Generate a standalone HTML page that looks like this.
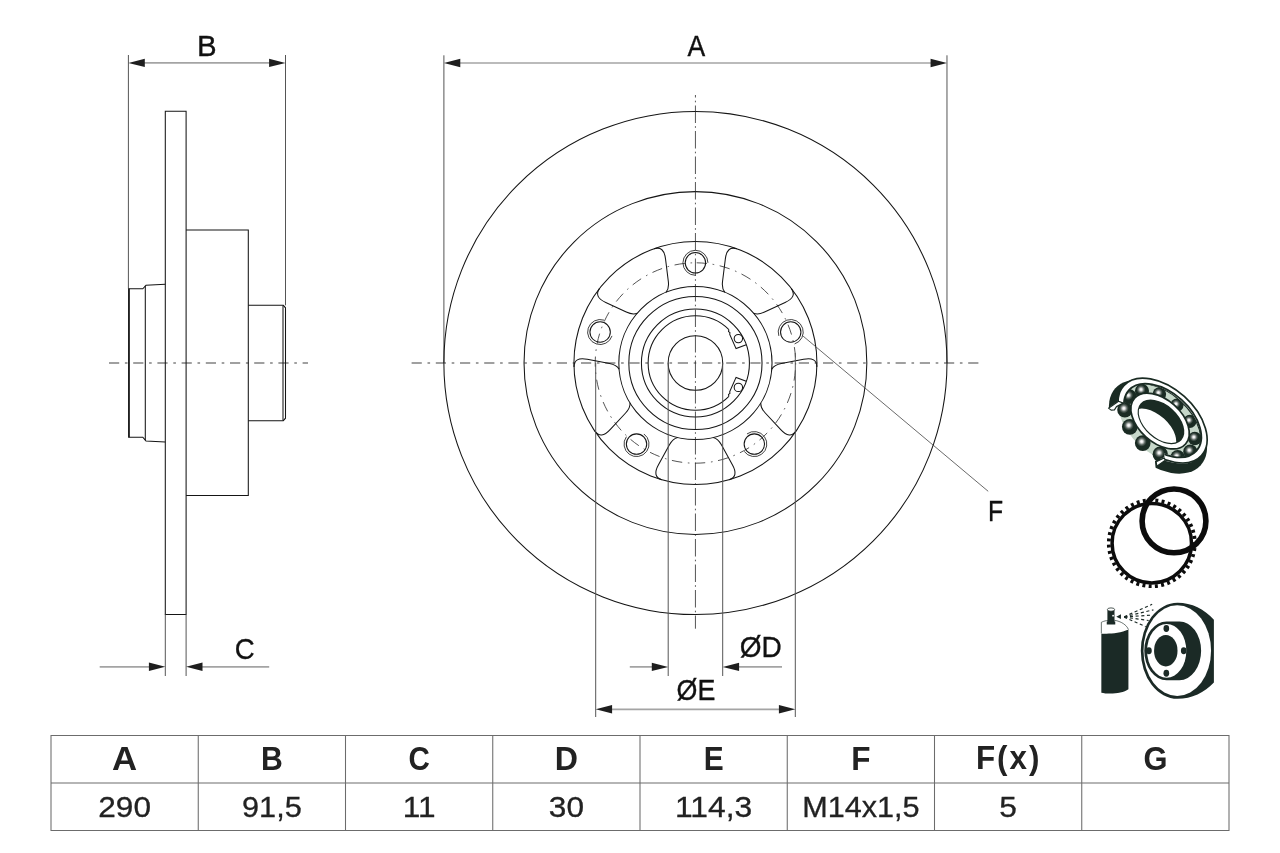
<!DOCTYPE html>
<html><head><meta charset="utf-8"><title>Brake disc drawing</title>
<style>
html,body{margin:0;padding:0;background:#fff;}
body{width:1280px;height:853px;overflow:hidden;position:relative;font-family:"Liberation Sans",sans-serif;}
svg{position:absolute;left:0;top:0;will-change:transform;}
text{font-family:"Liberation Sans",sans-serif;}
.o{fill:none;stroke:#151515;stroke-width:1.05;}
.t{fill:none;stroke:#2c2c2c;stroke-width:0.9;}
.d{fill:none;stroke:#555;stroke-width:1.0;}
.dh{fill:none;stroke:#a4a4a4;stroke-width:1.7;}
.ld{fill:none;stroke:#444;stroke-width:0.8;}
.cl{fill:none;stroke:#a0a0a0;stroke-width:1.9;stroke-dasharray:10.2 5.7 2.6 5.7;}
.cd{fill:none;stroke:#2a2a2a;stroke-width:0.8;stroke-dasharray:17.5 3.2 1.6 3.2;}
.ar{fill:#1e1e1e;stroke:none;}
.lb{font-size:30px;fill:#111;stroke:#111;stroke-width:0.35;}
.th{font-size:32.5px;font-weight:bold;fill:#222;text-anchor:middle;}
.tv{font-size:29.6px;fill:#222;stroke:#222;stroke-width:0.3;text-anchor:middle;}
.tb{fill:none;stroke:#6c6c6c;stroke-width:1.05;}
</style></head><body>
<svg width="1280" height="853" viewBox="0 0 1280 853">

<g id="side">
<path class="cl" d="M109 363H308"/>
<path class="d" d="M128.4 55V288.7M285.5 55V305.3"/>
<path class="dh" d="M144 62.9H270"/>
<path class="ar" d="M128.4 62.9l16.4 -4.2v8.4zM285.5 62.9l-16.4 -4.2v8.4z"/>
<path class="o" d="M165.3 111.2H186.1V614.5H165.3Z"/>
<path class="o" d="M186.1 230H248.3V495.5H186.1"/>
<path class="o" d="M248.3 305.3H283.3L285.5 307.8V418.2L283.3 420.7H248.3"/>
<path class="o" d="M283 305.6V420.4"/>
<path class="o" d="M165.3 284.3L146 285.3L145.3 286L142.8 288.8H128.6V437.2H142.8L145.3 440.2L146 441L165.3 442.1"/>
<path class="o" d="M129.3 288.7V437.3"/>
<path class="o" d="M145.3 285.8V440.2"/>
<path class="d" d="M165.3 614.5V676M186.1 614.5V676"/>
<path class="dh" d="M99.7 666.8H150M201 666.8H269.2"/>
<path class="ar" d="M165.3 666.8l-16.4 -4.2v8.4zM186.1 666.8l16.4 -4.2v8.4z"/>
</g>
<g id="front">
<path class="cl" d="M411.6 363H979"/>
<path class="d" d="M443.9 55.3V363M946.97 55.3V363"/>
<path class="dh" d="M459.5 63H931.5"/>
<path class="ar" d="M443.9 63l16.4 -4.2v8.4zM946.97 63l-16.4 -4.2v8.4z"/>
<circle class="o" cx="695.43" cy="363.00" r="251.55"/>
<circle class="o" cx="695.43" cy="363.00" r="171.40"/>
<circle class="o" cx="695.43" cy="363.00" r="121.50"/>
<circle class="o" cx="695.43" cy="363.00" r="76.60"/>
<circle class="o" cx="695.43" cy="363.00" r="66.60"/>
<circle class="o" cx="695.43" cy="363.00" r="54.00"/>
<circle class="o" cx="695.43" cy="363.00" r="27.30"/>
<circle class="cd" style="stroke-dasharray:10.4 5.659 1.6 5.659" cx="695.43" cy="363.00" r="100.2" transform="rotate(-89.3 695.43 363.00)"/>
<path class="cd" stroke-dashoffset="15" d="M695.43 95V628.7"/>
<path class="o" d="M654.07 248.75 Q664.03 245.60 665.53 259.00 L668.33 281.50 Q669.23 288.60 665.99 292.28"/>
<path class="o" d="M736.79 248.75 Q726.83 245.60 725.33 259.00 L722.53 281.50 Q721.63 288.60 724.87 292.28"/>
<circle class="o" cx="695.43" cy="262.80" r="10.2"/>
<path class="t" d="M707.93 262.80 A12.50 12.50 0 1 0 695.43 275.30"/>
<path class="o" d="M574.00 367.03 Q574.07 356.58 587.28 359.30 L609.54 363.59 Q616.58 364.93 619.08 369.14"/>
<path class="o" d="M599.56 288.36 Q593.48 296.86 605.76 302.43 L626.29 312.04 Q632.77 315.09 637.27 313.15"/>
<circle class="o" cx="600.13" cy="332.04" r="10.2"/>
<path class="t" d="M604.00 320.15 A12.50 12.50 0 1 0 612.02 335.90"/>
<path class="o" d="M661.74 479.73 Q651.83 476.44 658.49 464.71 L669.45 444.86 Q672.90 438.59 677.68 437.51"/>
<path class="o" d="M594.82 431.12 Q601.02 439.52 610.11 429.56 L625.60 413.01 Q630.50 407.79 630.05 402.91"/>
<circle class="o" cx="636.53" cy="444.06" r="10.2"/>
<path class="t" d="M626.42 436.72 A12.50 12.50 0 1 0 643.88 433.95"/>
<path class="o" d="M796.04 431.12 Q789.84 439.52 780.75 429.56 L765.26 413.01 Q760.36 407.79 760.81 402.91"/>
<path class="o" d="M729.12 479.73 Q739.03 476.44 732.37 464.71 L721.41 444.86 Q717.96 438.59 713.18 437.51"/>
<circle class="o" cx="754.33" cy="444.06" r="10.2"/>
<path class="t" d="M744.21 451.41 A12.50 12.50 0 1 0 746.98 433.95"/>
<path class="o" d="M791.30 288.36 Q797.38 296.86 785.10 302.43 L764.57 312.04 Q758.09 315.09 753.59 313.15"/>
<path class="o" d="M816.86 367.03 Q816.79 356.58 803.58 359.30 L781.32 363.59 Q774.28 364.93 771.78 369.14"/>
<circle class="o" cx="790.73" cy="332.04" r="10.2"/>
<path class="t" d="M794.59 343.92 A12.50 12.50 0 1 0 778.84 335.90"/>
<path class="o" d="M728.88 329.55 L728.51 331.61 L729.88 332.52 L729.75 334.51 L736.06 348.61 L746.24 344.71"/>
<circle class="o" cx="738.38" cy="338.60" r="4.2"/>
<path class="o" d="M728.88 396.45 L728.51 394.39 L729.88 393.48 L729.75 391.49 L736.06 377.39 L746.24 381.29"/>
<circle class="o" cx="738.38" cy="387.40" r="4.2"/>
<path class="o" d="M728.88 329.55 A47.30 47.30 0 1 0 728.88 396.45"/>
<path class="d" d="M668.2 363V676M722.7 363V676"/>
<path class="dh" d="M629.8 666.9H653M738 666.9H782"/>
<path class="ar" d="M668.2 666.9l-16.4 -4.2v8.4zM722.7 666.9l16.4 -4.2v8.4z"/>
<path class="d" d="M595.7 363V717M795.3 352.8V717"/>
<path class="dh" d="M611 709.3H780"/>
<path class="ar" d="M595.7 709.3l16.4 -4.2v8.4zM795.3 709.3l-16.4 -4.2v8.4z"/>
<path class="ld" d="M802 335.2L988.2 491.3"/>
</g>
<g class="lb">
<text text-anchor="middle" transform="translate(206.70 55.60) scale(0.981 1)">B</text>
<text text-anchor="middle" transform="translate(696.30 55.60) scale(0.885 1)">A</text>
<text text-anchor="middle" transform="translate(244.70 658.60) scale(0.921 1)">C</text>
<text text-anchor="middle" transform="translate(760.75 657.00) scale(0.933 1)">ØD</text>
<text text-anchor="middle" transform="translate(696.00 700.10) scale(0.895 1)">ØE</text>
<text text-anchor="middle" transform="translate(995.50 520.90) scale(0.825 1)">F</text>
</g>
<g id="table">
<path class="tb" d="M51 735.5H1229V830.4H51ZM51 782.9H1229M198.25 735.5V830.4M345.50 735.5V830.4M492.75 735.5V830.4M640.00 735.5V830.4M787.25 735.5V830.4M934.50 735.5V830.4M1081.75 735.5V830.4"/>
<text class="th" transform="translate(124.6 769.7) scale(1.070 1)">A</text>
<text class="tv" transform="translate(124.6 817.3) scale(1.068 1)">290</text>
<text class="th" transform="translate(271.9 769.7) scale(0.930 1)">B</text>
<text class="tv" transform="translate(271.9 817.3) scale(1.036 1)">91,5</text>
<text class="th" transform="translate(419.1 769.7) scale(0.910 1)">C</text>
<text class="tv" transform="translate(419.1 817.3) scale(1.068 1)">11</text>
<text class="th" transform="translate(566.4 769.7) scale(0.990 1)">D</text>
<text class="tv" transform="translate(566.4 817.3) scale(1.068 1)">30</text>
<text class="th" transform="translate(713.6 769.7) scale(0.920 1)">E</text>
<text class="tv" transform="translate(713.6 817.3) scale(1.075 1)">114,3</text>
<text class="th" transform="translate(860.9 769.7) scale(0.970 1)">F</text>
<text class="tv" transform="translate(860.9 817.3) scale(1.034 1)">M14x1,5</text>
<text class="th" transform="translate(1008.7 769.2) scale(0.965 1)" letter-spacing="2.1">F(x)</text>
<text class="tv" transform="translate(1008.1 817.3) scale(1.068 1)">5</text>
<text class="th" transform="translate(1155.4 769.7) scale(0.950 1)">G</text>
</g>
<g id="bearing" transform="translate(1100 370) scale(0.12892)">
<defs>
<clipPath id="cutc"><path d="M486 392L182 256L144 241L64 295L-200 478L-672 -500L1500 -500L1500 1500L431 1000L431 759L426 706L500 676Z"/></clipPath>
<clipPath id="holec"><ellipse cx="473" cy="402" rx="204" ry="123" transform="rotate(42 473 402)"/></clipPath>
<radialGradient id="ballg" cx="0.43" cy="0.40" r="0.6"><stop offset="0" stop-color="#ffffff"/><stop offset="0.12" stop-color="#ececec"/><stop offset="0.36" stop-color="#56625c"/><stop offset="0.54" stop-color="#1a2b23"/><stop offset="1" stop-color="#1a2b23"/></radialGradient>
</defs>
<g clip-path="url(#cutc)"><ellipse cx="450.0" cy="440.0" rx="446.0" ry="280.0" transform="rotate(42 450.0 440.0)" fill="#1a2b23"/></g>
<ellipse cx="462.0" cy="412.0" rx="372.0" ry="232.0" transform="rotate(42 462.0 412.0)" fill="#c6d7c9"/>
<circle cx="700.3" cy="632.8" r="54.7" fill="url(#ballg)"/>
<circle cx="602.4" cy="677.8" r="57.3" fill="url(#ballg)"/>
<circle cx="467.4" cy="653.8" r="59.5" fill="url(#ballg)"/>
<circle cx="331.5" cy="567.1" r="60.8" fill="url(#ballg)"/>
<circle cx="231.1" cy="441.0" r="60.8" fill="url(#ballg)"/>
<circle cx="193.1" cy="309.3" r="59.5" fill="url(#ballg)"/>
<circle cx="227.7" cy="207.2" r="57.3" fill="url(#ballg)"/>
<circle cx="325.6" cy="162.2" r="54.7" fill="url(#ballg)"/>
<circle cx="460.6" cy="186.2" r="52.5" fill="url(#ballg)"/>
<circle cx="596.5" cy="272.9" r="51.2" fill="url(#ballg)"/>
<circle cx="696.9" cy="399.0" r="51.2" fill="url(#ballg)"/>
<circle cx="734.9" cy="530.7" r="52.5" fill="url(#ballg)"/>
<ellipse cx="466.0" cy="396.0" rx="266.0" ry="165.0" transform="rotate(42 466.0 396.0)" fill="#fff" stroke="#1a2b23" stroke-width="13"/>
<ellipse cx="473.0" cy="402.0" rx="213.0" ry="132.0" transform="rotate(42 473.0 402.0)" fill="#1a2b23"/>
<g clip-path="url(#holec)"><ellipse cx="410.0" cy="472.0" rx="215.0" ry="128.0" transform="rotate(42 410.0 472.0)" fill="#fff"/></g>
<g clip-path="url(#cutc)">
<ellipse cx="486.0" cy="392.0" rx="379.0" ry="235.0" transform="rotate(42 486.0 392.0)" fill="none" stroke="#fff" stroke-width="50"/>
<ellipse cx="486.0" cy="392.0" rx="405.0" ry="251.0" transform="rotate(42 486.0 392.0)" fill="none" stroke="#1a2b23" stroke-width="13"/>
<ellipse cx="486.0" cy="392.0" rx="352.0" ry="218.0" transform="rotate(42 486.0 392.0)" fill="none" stroke="#1a2b23" stroke-width="14"/>
</g>
<path d="M66 296L144 243L180 257L128 284L112 309L86 311Z" fill="#fff" stroke="#1a2b23" stroke-width="9" stroke-linejoin="round"/>
<path d="M436 712L498 682L506 700L441 747Z" fill="#fff" stroke="#1a2b23" stroke-width="9" stroke-linejoin="round"/>
</g>
<g id="absring">
<circle cx="1151.8" cy="543.2" r="39.7" fill="none" stroke="#0c0c0c" stroke-width="3.5"/>
<circle cx="1151.8" cy="543.2" r="43.00" fill="none" stroke="#0c0c0c" stroke-width="3.8" stroke-dasharray="2.9531 3.3301" stroke-dashoffset="1.4765"/>
<circle cx="1174" cy="520.9" r="31.9" fill="none" stroke="#0c0c0c" stroke-width="5.6"/>
</g>
<g id="spray" transform="translate(1090 595) scale(0.12892)">
<path d="M88 298C130 304 230 300 298 268V732C250 768 140 770 88 758Z" fill="#1b2a26"/>
<path d="M88 298V212C110 200 140 194 190 196C240 204 285 232 298 268" fill="#fff" stroke="#1b2a26" stroke-width="5"/>
<path d="M135 115H190V206H196V228H130V206H135Z" fill="#1b2a26"/>
<ellipse cx="163" cy="113" rx="28" ry="13" fill="#fff" stroke="#1b2a26" stroke-width="6"/>
<circle cx="179" cy="160" r="7" fill="#fff"/>
<path d="M204 168L240 150L240 186Z" fill="#1b2a26"/>
<path d="M262 170L482 72" stroke="#1b2a26" stroke-width="9" stroke-dasharray="24 20" stroke-dashoffset="-4" fill="none"/>
<path d="M262 170L492 115" stroke="#1b2a26" stroke-width="9" stroke-dasharray="24 20" stroke-dashoffset="-4" fill="none"/>
<path d="M262 170L482 156" stroke="#1b2a26" stroke-width="9" stroke-dasharray="24 20" stroke-dashoffset="-4" fill="none"/>
<path d="M262 170L455 198" stroke="#1b2a26" stroke-width="9" stroke-dasharray="24 20" stroke-dashoffset="-4" fill="none"/>
<path d="M262 170L432 246" stroke="#1b2a26" stroke-width="9" stroke-dasharray="24 20" stroke-dashoffset="-4" fill="none"/>
<g transform="translate(349 0)">
<path d="M330 60C440 60 540 110 612 192V678C540 756 440 805 330 805A285 372.5 0 0 1 330 60Z" fill="#1b2a26"/>
<ellipse cx="328" cy="432" rx="262" ry="352" fill="#fff"/>
<path d="M245 205L345 205A168 228 0 0 1 345 661L245 661A173 228 0 0 1 245 205Z" fill="#1b2a26"/>
<ellipse cx="246" cy="433" rx="152" ry="209" fill="#fff"/>
<ellipse cx="239" cy="432" rx="91" ry="122" fill="#1b2a26"/>
<ellipse cx="243" cy="260" rx="22" ry="27" fill="#1b2a26"/>
<ellipse cx="108" cy="433" rx="22" ry="27" fill="#1b2a26"/>
<ellipse cx="378" cy="433" rx="22" ry="27" fill="#1b2a26"/>
<ellipse cx="243" cy="607" rx="22" ry="27" fill="#1b2a26"/>
</g>
</g>
</svg></body></html>
